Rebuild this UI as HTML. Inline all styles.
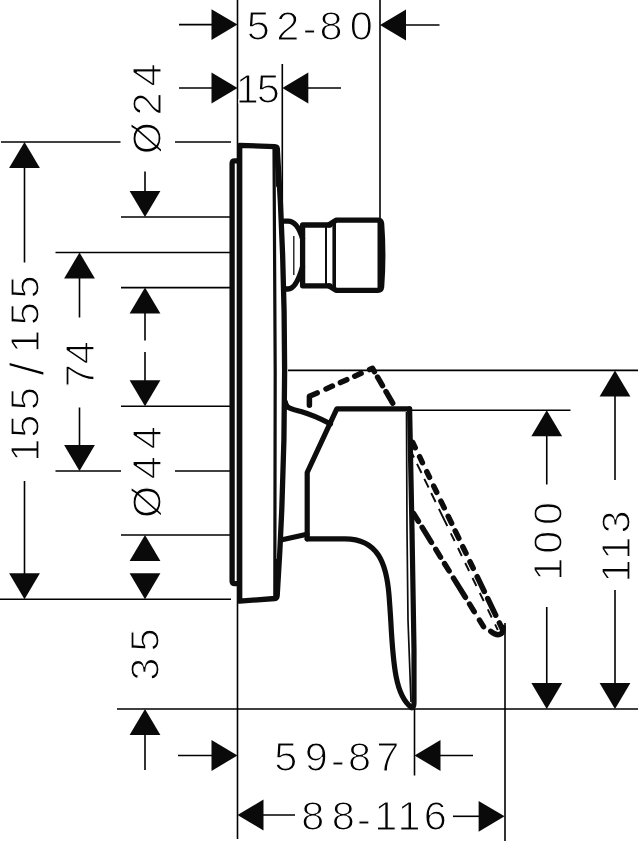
<!DOCTYPE html>
<html><head><meta charset="utf-8"><title>Dimension drawing</title>
<style>
html,body{margin:0;padding:0;background:#fff;}
body{width:640px;height:841px;overflow:hidden;}
svg{display:block;}
text{font-family:"Liberation Sans",sans-serif;font-size:41.5px;fill:#000;stroke:#fff;stroke-width:1.2;}
</style></head><body>
<svg width="640" height="841" viewBox="0 0 640 841">
<rect width="640" height="841" fill="#fff"/>
<g fill="none" stroke="#000" stroke-width="1.6">
<path d="M237.5 0V839"/>
<path d="M282.3 64V218"/>
<path d="M380 0V218"/>
<path d="M414.5 709V775.5"/>
<path d="M505 623V841"/>
<path d="M179 24.6H212"/>
<path d="M405 25H439.5"/>
<path d="M179 88H212"/>
<path d="M307 88H341"/>
<path d="M1 142H120.5"/>
<path d="M175 142H231"/>
<path d="M121 217H231"/>
<path d="M55.5 252.5H231"/>
<path d="M121 287.6H231"/>
<path d="M121 406.3H231"/>
<path d="M55.5 471H121"/>
<path d="M175 471H231"/>
<path d="M121 535H231"/>
<path d="M0 599.3H231"/>
<path d="M117 709H638"/>
<path d="M288 370.4H638"/>
<path d="M412 410.3H570.5"/>
<path d="M178 755.5H212"/>
<path d="M439 755.5H473"/>
<path d="M262 815H295"/>
<path d="M453 816.3H479"/>
<path d="M24.5 166V262.5"/>
<path d="M24.5 481V575"/>
<path d="M79.5 277V317.5"/>
<path d="M79.5 407.5V446"/>
<path d="M145 171.4V193"/>
<path d="M145 312V340.5"/>
<path d="M145 352V381.5"/>
<path d="M145 735V770"/>
<path d="M546.75 435V484.5"/>
<path d="M546.75 607V683"/>
<path d="M615 395V480"/>
<path d="M615 590V683"/>
</g>
<g fill="#0a0a0a" stroke="none">
<polygon points="237.5,24.6 211.5,9.2 211.5,40"/>
<polygon points="380,25 406,9.6 406,40.4"/>
<polygon points="237.5,88 211.5,72.6 211.5,103.4"/>
<polygon points="282.3,88 308.3,72.6 308.3,103.4"/>
<polygon points="237.5,755.5 211.5,740.1 211.5,770.9"/>
<polygon points="414.5,755.5 440.5,740.1 440.5,770.9"/>
<polygon points="237.5,815 263.5,799.6 263.5,830.4"/>
<polygon points="504.6,816.3 478.6,800.9 478.6,831.7"/>
<polygon points="24.5,142 9.1,168 39.9,168"/>
<polygon points="24.5,599.3 9.1,573.3 39.9,573.3"/>
<polygon points="79.5,252.5 64.1,278.5 94.9,278.5"/>
<polygon points="79.5,471 64.1,445 94.9,445"/>
<polygon points="145,217 129.6,191 160.4,191"/>
<polygon points="145,287.6 129.6,313.6 160.4,313.6"/>
<polygon points="145,406.3 129.6,380.3 160.4,380.3"/>
<polygon points="145,535 129.6,561 160.4,561"/>
<polygon points="145,599.3 129.6,573.3 160.4,573.3"/>
<polygon points="145,709 129.6,735 160.4,735"/>
<polygon points="546.75,410.3 531.35,436.3 562.15,436.3"/>
<polygon points="546.75,709 531.35,683 562.15,683"/>
<polygon points="615,370.4 599.6,396.4 630.4,396.4"/>
<polygon points="615,709 599.6,683 630.4,683"/>
</g>
<g fill="none" stroke="#0d0d0d" stroke-width="5.3" stroke-linejoin="round" stroke-linecap="round">
<path d="M237.5 160.8H234.8Q232.1 160.8 232.1 163.5V581Q232.1 583.7 234.8 583.7H237.5"/>
<path d="M239.7 601.2V145.4L274.8 146.6Q277.2 146.7 277.3 149Q292 371 277.2 595.5Q277 598.2 274.8 598.5L239.7 601.2"/>
</g>
<g fill="none" stroke="#0d0d0d" stroke-width="3.2" stroke-linecap="round"><path d="M274 148L275.2 372L274.8 597"/></g>
<g fill="none" stroke="#0d0d0d" stroke-width="2.6" stroke-linecap="round"><path d="M275.8 150L277.4 186M275.6 594L277 560"/></g>
<g fill="none" stroke="#0d0d0d" stroke-width="5.3" stroke-linejoin="round" stroke-linecap="round">
<path d="M284 221.2H288C294 221.2 299 227 302.5 238.5M302.5 267C299 279 294 289 288 289H284"/>
<path d="M330 225H302.6V285.8H330"/>
<path d="M329 224.8L336 220.2H378Q381.2 220.2 381.6 223.5Q384 255 381.6 287Q381.2 290.3 378 290.3H336L329 286"/>
</g>
<g fill="none" stroke="#0d0d0d" stroke-width="3.6"><path d="M334.2 221V290"/></g>
<g fill="none" stroke="#0d0d0d" stroke-width="5"><path d="M380 222V289"/></g>
<g fill="none" stroke="#0d0d0d" stroke-width="2"><path d="M326 226V285"/></g>
<g fill="none" stroke="#0d0d0d" stroke-width="1.3"><path d="M293.8 236V275"/></g>
<g fill="none" stroke="#0d0d0d" stroke-width="5.2" stroke-linejoin="round" stroke-linecap="round">
<path d="M285.5 405.8C290 409.3 296 410.2 301 411.6S318 417.6 330.5 423.8"/>
<path stroke-width="3" d="M286.3 401.5Q287 406 291.5 408.8"/>
<path d="M281 540L307 534.3"/>
<path d="M307.2 538.8V472.5L336.8 408.8H409.6"/>
<path d="M307.2 538.8H345C378.1 538.8 386.5 563.9 389 595C389.8 605 390.3 613 390.8 621C391.8 640 393 660 396 676C399 692 404 702 411.6 707.6"/>
<path d="M409.6 408.8L412 530L414 650V703Q414 707.5 411.6 707.6"/>
</g>
<g fill="none" stroke="#0d0d0d" stroke-width="1.7"><path d="M406.5 412L407 530L408 620L411 702"/></g>
<g fill="none" stroke="#0d0d0d" stroke-width="5.5" stroke-linejoin="round" stroke-linecap="round">
<path d="M309.4 405.3L309.4 396.3L317.2 392.9M326.0 388.9L332.4 386.1M340.4 382.6L346.8 379.7M354.7 376.2L361.1 373.3M369.6 369.6L372.5 368.3L374.4 371.6M377.6 377.1L382.5 385.6M386.0 391.7L392.7 403.2"/>
<path d="M412.6 442.3L415.2 447.7M419.6 456.7L422.4 462.7M426.8 471.7L429.5 477.3M433.7 486.1L436.7 492.3M440.9 501.1L444.2 507.9M448.2 516.3L451.6 523.3M455.2 530.9L458.8 538.3M462.8 546.7L466.0 553.3M470.0 561.7L473.2 568.3M477.2 576.7L484.3 591.5M487.7 598.5L495.7 615.2M499.4 622.9L502.2 628.7"/>
<path d="M413.7 513.6L418.4 521.3M422.2 527.4L431.4 542.4M435.8 549.4L440.5 557.1M444.6 563.7L449.1 570.9M453.5 578.1L465.4 597.3M469.6 604.1L474.2 611.6M479.5 620.1L483.5 626.6"/>
<path d="M490.8 631.3Q497 636.4 501 633.8Q503.4 632 503.2 627.5"/>
</g>
<g fill="none" stroke="#0d0d0d" stroke-width="1.9">
<path d="M412.3 454.0L414.0 457.5M417.0 463.8L421.5 473.0M424.3 478.8L428.6 487.5M431.2 493.0L435.6 502.0M438.9 508.8L447.3 526.0M450.8 533.3L454.6 541.0M458.0 548.0L461.8 556.0M465.2 563.0L469.1 571.0M472.5 578.0L476.4 586.0M479.8 593.0L483.7 601.0M487.8 609.4L491.7 617.5M495.1 624.4L497.8 630.0"/>
</g>

<g opacity="0.99">
<text text-anchor="middle" x="258.4 287.9 309.7 331.1 361.4" y="40.1 40.1 42.1 40.1 40.1">52-80</text>
<text text-anchor="middle" x="247.3 268.4" y="103 103">15</text>
<text text-anchor="middle" x="285.9 316.4 338 359.6 387.8" y="771.1 771.1 773.6 771.1 771.1">59-87</text>
<text text-anchor="middle" x="312.8 343.4 364 385.8 409 435.3" y="830.3 830.3 832.8 830.3 830.3 830.3">88-116</text>
<text text-anchor="middle" transform="rotate(-90)" x="-138.1 -104 -75" y="160.5"><tspan font-size="41.3">Ø</tspan>24</text>
<text text-anchor="middle" transform="rotate(-90)" x="-450.1 -426.1 -398.8 -368.9 -341.4 -313.75 -287" y="39.2 39.2 39.2 44.4 39.2 39.2 39.2">155<tspan font-size="48">/</tspan>155</text>
<text text-anchor="middle" transform="rotate(-90)" x="-375.75 -352.8" y="94.4">74</text>
<text text-anchor="middle" transform="rotate(-90)" x="-502 -467.75 -437.8" y="160.5"><tspan font-size="41.3">Ø</tspan>44</text>
<text text-anchor="middle" transform="rotate(-90)" x="-669.2 -640" y="158.6">35</text>
<text text-anchor="middle" transform="rotate(-90)" x="-569.1 -542.2 -513.4" y="562.2">100</text>
<text text-anchor="middle" transform="rotate(-90)" x="-570.9 -548.3 -522" y="629.6">113</text>
</g>
</svg>
</body></html>
